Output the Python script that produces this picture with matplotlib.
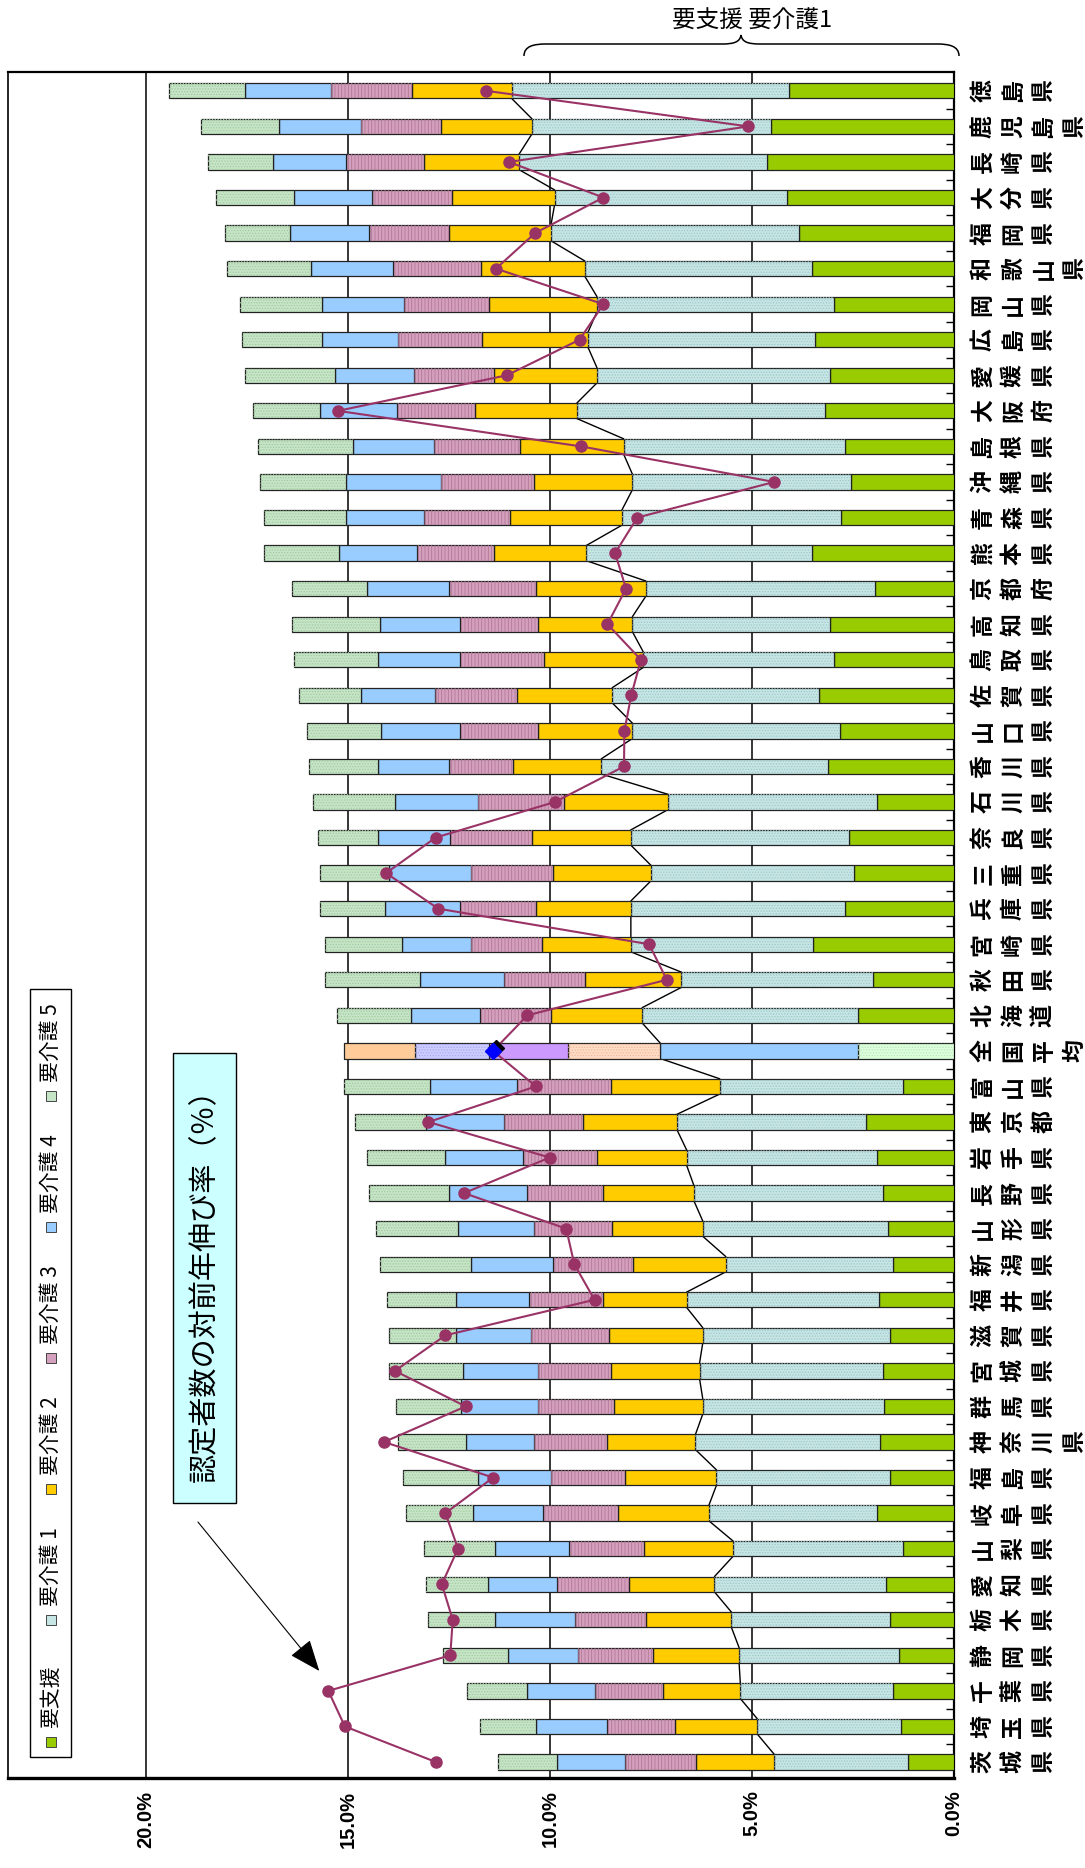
import matplotlib
matplotlib.use('Agg')
import matplotlib.pyplot as plt
import numpy as np
from matplotlib.patches import Rectangle, PathPatch
from matplotlib.path import Path

plt.rcParams['font.family'] = ['Noto Sans CJK JP', 'DejaVu Sans']
plt.rcParams['hatch.linewidth'] = 0.6

# rows from bottom to top of the chart
prefs = ['茨城県', '埼玉県', '千葉県', '静岡県', '栃木県', '愛知県', '山梨県', '岐阜県',
         '福島県', '神奈川県', '群馬県', '宮城県', '滋賀県', '福井県', '新潟県', '山形県',
         '長野県', '岩手県', '東京都', '富山県', '全国平均', '北海道', '秋田県', '宮崎県',
         '兵庫県', '三重県', '奈良県', '石川県', '香川県', '山口県', '佐賀県', '鳥取県',
         '高知県', '京都府', '熊本県', '青森県', '沖縄県', '島根県', '大阪府', '愛媛県',
         '広島県', '岡山県', '和歌山県', '福岡県', '大分県', '長崎県', '鹿児島県', '徳島県']

yoshien = [1.13, 1.31, 1.50, 1.36, 1.59, 1.69, 1.27, 1.91, 1.59, 1.82, 1.73, 1.77,
           1.59, 1.86, 1.50, 1.63, 1.77, 1.91, 2.19, 1.27, 2.37, 2.37, 2.01, 3.48,
           2.69, 2.47, 2.60, 1.91, 3.11, 2.83, 3.33, 2.98, 3.07, 1.95, 3.51, 2.79,
           2.56, 2.69, 3.20, 3.07, 3.44, 2.96, 3.51, 3.84, 4.13, 4.63, 4.52, 4.08]
kaigo1 = [3.32, 3.56, 3.79, 3.96, 3.92, 4.24, 4.20, 4.16, 4.29, 4.58, 4.49, 4.53,
          4.63, 4.76, 4.15, 4.59, 4.67, 4.71, 4.67, 4.53, 4.90, 5.35, 4.74, 4.52,
          5.31, 5.03, 5.40, 5.17, 5.62, 5.13, 5.13, 4.71, 4.89, 5.68, 5.59, 5.43,
          5.40, 5.49, 6.14, 5.77, 5.62, 5.88, 5.63, 6.14, 5.76, 6.14, 5.93, 6.87]
kaigo2 = [1.94, 2.03, 1.92, 2.13, 2.12, 2.11, 2.20, 2.26, 2.26, 2.20, 2.20, 2.20,
          2.33, 2.06, 2.30, 2.24, 2.24, 2.22, 2.32, 2.70, 2.29, 2.26, 2.39, 2.20,
          2.35, 2.43, 2.44, 2.57, 2.18, 2.34, 2.35, 2.47, 2.34, 2.72, 2.30, 2.77,
          2.44, 2.57, 2.52, 2.56, 2.63, 2.66, 2.58, 2.52, 2.54, 2.34, 2.25, 2.48]
kaigo3 = [1.75, 1.70, 1.67, 1.85, 1.75, 1.80, 1.85, 1.85, 1.84, 1.80, 1.88, 1.80,
          1.93, 1.85, 1.98, 1.93, 1.90, 1.82, 1.95, 2.31, 1.94, 1.76, 1.99, 1.76,
          1.89, 2.03, 2.03, 2.13, 1.60, 1.94, 2.03, 2.08, 1.94, 2.15, 1.90, 2.12,
          2.30, 2.13, 1.94, 1.98, 2.07, 2.11, 2.17, 1.98, 1.97, 1.95, 1.99, 1.99]
kaigo4 = [1.70, 1.75, 1.70, 1.74, 1.98, 1.70, 1.84, 1.74, 1.80, 1.69, 1.90, 1.85,
          1.85, 1.80, 2.03, 1.89, 1.93, 1.94, 1.95, 2.16, 1.85, 1.70, 2.08, 1.71,
          1.85, 2.03, 1.79, 2.07, 1.76, 1.94, 1.84, 2.02, 1.98, 2.03, 1.93, 1.95,
          2.36, 1.99, 1.90, 1.95, 1.89, 2.04, 2.03, 1.95, 1.94, 1.79, 2.02, 2.13]
kaigo5 = [1.44, 1.39, 1.47, 1.62, 1.66, 1.54, 1.75, 1.65, 1.85, 1.68, 1.61, 1.85,
          1.66, 1.70, 2.26, 2.03, 1.98, 1.94, 1.74, 2.13, 1.75, 1.84, 2.36, 1.90,
          1.61, 1.71, 1.49, 2.03, 1.70, 1.85, 1.53, 2.08, 2.17, 1.86, 1.86, 2.03,
          2.12, 2.35, 1.66, 2.22, 1.98, 2.03, 2.09, 1.62, 1.94, 1.63, 1.94, 1.89]
# 認定者数の対前年伸び率 (%)
growth = [12.83, 15.08, 15.49, 12.47, 12.41, 12.68, 12.28, 12.59, 11.41, 14.11, 12.09, 13.84,
          12.59, 8.90, 9.40, 9.60, 12.13, 10.01, 13.01, 10.35, 11.41, 10.56, 7.11, 7.55,
          12.77, 14.06, 12.83, 9.88, 8.17, 8.16, 7.99, 7.75, 8.58, 8.12, 8.39, 7.84,
          4.45, 9.23, 15.25, 11.07, 9.27, 8.68, 11.34, 10.37, 8.68, 11.02, 5.09, 11.58]

legend_labels = ['要支援', '要介護 1', '要介護 2', '要介護 3', '要介護 4', '要介護 5']
ticks = [0, 5, 10, 15, 20]
tick_labels = ['0.0%', '5.0%', '10.0%', '15.0%', '20.0%']

colors = ['#99CC00', '#C6E5E5', '#FFCC00', '#D4A0BE', '#99CCFF', '#C6E5C6']
hatch_cols = ['none', '#9FC8C8', 'none', '#B27896', 'none', '#A2C9A2']
hatches = [None, '......', None, '|||||', None, '......']
avg_colors = ['#DDFFDD', '#99CCFF', '#FFDCC6', '#CC99FF', '#CCCCFF', '#FFCC99']
avg_hcols = ['#B8E8B8', 'none', '#F0B898', 'none', '#A8A8F0', 'none']
avg_hatch = ['......', None, '......', None, '......', None]

W, H = 1085, 1868
fig = plt.figure(figsize=(W / 100, H / 100), dpi=100)
ax = fig.add_axes([8 / W, 1 - 1778 / H, (954 - 8) / W, (1778 - 72) / H])

def fx(px):
    return px / W

def fy(py):
    return 1 - py / H

data = np.array([yoshien, kaigo1, kaigo2, kaigo3, kaigo4, kaigo5])
lefts = np.vstack([np.zeros(len(prefs)), np.cumsum(data, axis=0)[:-1]])
y = np.arange(len(prefs))
iavg = prefs.index('全国平均')
h = 0.43

for k in range(6):
    fc = [avg_colors[k] if i == iavg else colors[k] for i in y]
    ax.barh(y, data[k], left=lefts[k], height=h, color=fc,
            edgecolor='#222222', linewidth=0.9, zorder=3)
    over = ax.barh(y, data[k], left=lefts[k], height=h, color='none',
                   linewidth=0, zorder=3.5)
    for i, p in enumerate(over):
        hc = avg_hcols[k] if i == iavg else hatch_cols[k]
        ht = avg_hatch[k] if i == iavg else hatches[k]
        if ht:
            p.set_hatch(ht)
            p.set_edgecolor(hc)

# series line joining the 要介護1 ends
cum1 = lefts[2]
ax.plot(np.repeat(cum1, 2), np.column_stack([y - h / 2, y + h / 2]).ravel(),
        color='black', lw=1.0, zorder=2.5)

# growth rate line
ax.plot(growth, y, color='#993366', lw=1.5, zorder=5)
mask = y != iavg
ax.plot(np.array(growth)[mask], y[mask], 'o', color='#993366', ms=8, zorder=6)
ax.plot(growth[iavg] - 0.06, iavg + 0.08, 'D', color='black', ms=8, zorder=6)
ax.plot(growth[iavg], iavg, 'D', color='#0000FF', ms=8, zorder=7)

ax.set_xlim(23.42, 0)
ax.set_ylim(-0.45, 47.53)
ax.set_xticks(ticks)
ax.set_xticklabels(tick_labels, rotation=90, fontsize=14.5, fontweight='bold',
                   family='Liberation Sans')
ax.tick_params(axis='x', length=0, pad=9)
ax.xaxis.grid(True, color='black', lw=1.1)
ax.set_axisbelow(True)
ax.set_yticks(y[:-1] + 0.5)
ax.yaxis.tick_right()
ax.tick_params(axis='y', direction='in', length=6, width=1, labelright=False)
for s, lw in [('bottom', 2.4), ('right', 1.6), ('top', 1.6), ('left', 1.2)]:
    ax.spines[s].set_linewidth(lw)

# prefecture names, each character turned
for i, name in enumerate(prefs):
    for j, ch in enumerate(name):
        ax.annotate(ch, xy=(0, i), xycoords='data', xytext=(29 + 30.5 * j, 0),
                    textcoords='offset pixels', rotation=90, ha='center', va='center',
                    fontsize=16.5, fontweight='bold', annotation_clip=False)

# legend drawn by hand, text turned
fig.add_artist(Rectangle((fx(30), fy(1757)), (71 - 30) / W, (1757 - 989) / H,
                         transform=fig.transFigure, fill=False, edgecolor='black', lw=1))
sq_y = [1742, 1620, 1489, 1358, 1227, 1096]
for k in range(6):
    fig.add_artist(Rectangle((fx(46), fy(sq_y[k] + 5)), 10 / W, 10 / H,
                             transform=fig.transFigure, facecolor=colors[k],
                             edgecolor='#444444', lw=0.7))
    fig.text(fx(51), fy(sq_y[k] - 14), legend_labels[k], rotation=90,
             ha='center', va='bottom', fontsize=15)

# title box and arrow
fig.add_artist(Rectangle((fx(173), fy(1503)), (236 - 173) / W, (1503 - 1053) / H,
                         transform=fig.transFigure, facecolor='#CCFFFF',
                         edgecolor='black', lw=1))
fig.text(fx(205), fy(1278), '認定者数の対前年伸び率（％）', rotation=90,
         ha='center', va='center', fontsize=21)
ax.annotate('', xy=(15.67, 2.50), xytext=(18.76, 6.81),
            arrowprops=dict(arrowstyle='-|>,head_length=0.55,head_width=0.22',
                            color='black', lw=0.8, mutation_scale=36),
            annotation_clip=False)

# brace over the 要支援 + 要介護1 part
verts = [(524, 56), (524, 46), (534, 44), (546, 44), (722, 44),
         (734, 44), (740, 42), (741, 35), (742, 42), (748, 44), (760, 44),
         (937, 44), (949, 44), (959, 46), (959, 56)]
codes = [Path.MOVETO, Path.CURVE4, Path.CURVE4, Path.CURVE4, Path.LINETO,
         Path.CURVE4, Path.CURVE4, Path.CURVE4, Path.CURVE4, Path.CURVE4, Path.CURVE4,
         Path.LINETO, Path.CURVE4, Path.CURVE4, Path.CURVE4]
brace = Path([(fx(a), fy(b)) for a, b in verts], codes)
fig.add_artist(PathPatch(brace, transform=fig.transFigure, fill=False,
                         edgecolor='black', lw=1.1))
fig.text(fx(752), fy(21), '要支援 要介護1', ha='center', va='center', fontsize=17)

fig.savefig('out.png', dpi=100)
